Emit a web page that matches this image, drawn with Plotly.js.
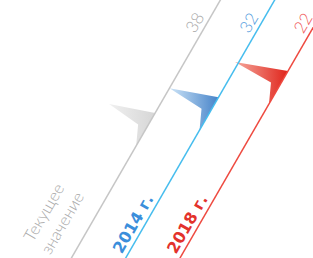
<!DOCTYPE html>
<html><head><meta charset="utf-8">
<script src="https://cdn.plot.ly/plotly-3.0.1.min.js"></script>
<style>html,body{margin:0;padding:0;background:#fff}#chart{width:313px;height:258px}</style>
</head><body><div id="chart"></div>
<script>
// ---- data ----
const categories = ["Текущее<br>значение", "2014 г.", "2018 г."];
const values = [38, 32, 22];
const valueLabels = ["38", "32", "22"];

// ---- styles ----
const lineColors = ["#c6c6c6", "#46bdee", "#ee4a40"];
const flagFrom = ["#f0f0f0", "#cde4f7", "#f5a89c"];
const flagTo = ["#d6d6d6", "#4683c9", "#e0241b"];
const flagWidth = [46, 49, 53];
const labelColors = ["#a8a8a8", "#3b8edb", "#e3322c"];
const valueColors = ["#ababab", "#5a9fe0", "#f06060"];

// ---- geometry ----
const ang = 60 * Math.PI / 180;
const ux = -Math.cos(ang), uy = Math.sin(ang);      // along line (downwards)
const nx = -Math.sin(ang), ny = -Math.cos(ang);     // perpendicular (upper-left)
const origin = [212.7, 13.3], gap = 54.3, lineLen = 300, scale = 3.03;
function pt(i, t, off) {
  off = off || 0;
  return [origin[0] + gap * i + ux * t + nx * off, origin[1] + uy * t + ny * off];
}

const traces = [];
const annotations = [];
values.forEach((v, i) => {
  const ta = v * scale;
  const A = pt(i, ta);
  const B = pt(i, ta + 38);
  const tip = [A[0] - flagWidth[i], A[1] - 9];
  const notch = [A[0] - 17, A[1] + 11.5];
  const xs = [A[0], B[0], notch[0], tip[0], A[0]];
  const ys = [A[1], B[1], notch[1], tip[1], A[1]];
  traces.push({
    type: 'scatter', mode: 'lines', x: xs, y: ys, fill: 'toself',
    line: {width: 0, color: 'rgba(0,0,0,0)'},
    fillgradient: {type: 'horizontal', colorscale: [[0, flagFrom[i]], [1, flagTo[i]]]},
    hoverinfo: 'skip'
  });
});
values.forEach((v, i) => {
  const p0 = pt(i, -20), p1 = pt(i, lineLen);
  traces.push({
    type: 'scatter', mode: 'lines', x: [p0[0], p1[0]], y: [p0[1], p1[1]],
    line: {width: 1.5, color: lineColors[i]}, hoverinfo: 'skip'
  });
  const pv = pt(i, 17, 12);
  annotations.push({
    x: pv[0], y: pv[1], xref: 'x', yref: 'y', text: valueLabels[i], showarrow: false,
    textangle: -60, xanchor: 'center', yanchor: 'middle',
    font: {family: 'Lato', weight: 300, size: 17, color: valueColors[i]}
  });
  const pl = i === 0 ? pt(i, 257, 36) : pt(i, 249, 10.5);
  annotations.push({
    x: pl[0], y: pl[1], xref: 'x', yref: 'y', text: categories[i], showarrow: false,
    textangle: -60, xanchor: 'center', yanchor: 'middle',
    font: i === 0 ? {family: 'Lato', weight: 300, size: 16.5, color: labelColors[i]}
                  : {family: 'DejaVu Sans', weight: 'bold', size: 16, color: labelColors[i]}
  });
});

const layout = {
  width: 313, height: 258,
  margin: {l: 0, r: 0, t: 0, b: 0},
  paper_bgcolor: '#ffffff', plot_bgcolor: '#ffffff',
  showlegend: false,
  xaxis: {range: [0, 313], visible: false, fixedrange: true},
  yaxis: {range: [258, 0], visible: false, fixedrange: true},
  annotations: annotations
};
Plotly.newPlot('chart', traces, layout, {displayModeBar: false, staticPlot: true});
</script>
</body></html>
